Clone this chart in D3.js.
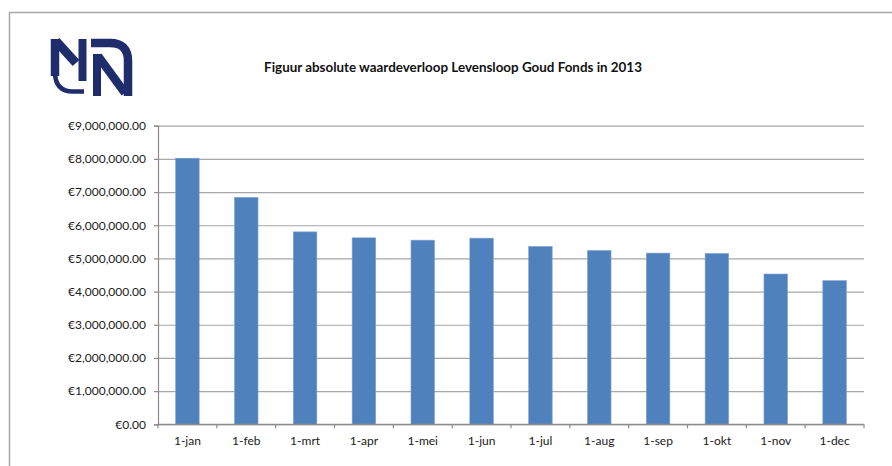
<!DOCTYPE html>
<html>
<head>
<meta charset="utf-8">
<script src="https://cdn.jsdelivr.net/npm/d3@7"></script>
<style>
  body { margin: 0; background: #fff; }
  svg { display: block; font-family: Lato, "Open Sans", sans-serif; }
  .tick text { fill: #1a1a1a; }
</style>
</head>
<body>
<svg width="892" height="466"></svg>
<script>
const months = ['1-jan', '1-feb', '1-mrt', '1-apr', '1-mei', '1-jun', '1-jul', '1-aug', '1-sep', '1-okt', '1-nov', '1-dec'];
const values = [8020000, 6840000, 5800000, 5620000, 5550000, 5610000, 5360000, 5240000, 5160000, 5150000, 4530000, 4330000];
const yTicks = [0, 1000000, 2000000, 3000000, 4000000, 5000000, 6000000, 7000000, 8000000, 9000000];

const svg = d3.select('svg');

// page frame (left and top edge)
svg.append('path')
  .attr('d', 'M9.5,466 L9.5,12.5 L892,12.5')
  .attr('fill', 'none')
  .attr('stroke', '#a8a8a8')
  .attr('stroke-width', 1.5);

// logo
const logo = svg.append('g')
  .attr('fill', 'none')
  .attr('stroke', '#202d6c');
logo.append('path').attr('d', 'M55,39 L55,76').attr('stroke-width', 8.5);
logo.append('path').attr('d', 'M55,72 Q55,91.5 73,91.5 L84,91.5').attr('stroke-width', 4.5);
logo.append('path').attr('d', 'M56,41 L76,63').attr('stroke-width', 9);
logo.append('path').attr('d', 'M82.5,39 L82.5,81').attr('stroke-width', 8);
logo.append('path').attr('d', 'M97,54 L97,96').attr('stroke-width', 8);
logo.append('path').attr('d', 'M91,43 L110,43 Q128,43 128,61 L128,96').attr('stroke-width', 8.5);
logo.append('path').attr('d', 'M98,56 L125,93').attr('stroke-width', 8.5);

svg.append('text')
  .attr('x', 453)
  .attr('y', 72)
  .attr('text-anchor', 'middle')
  .attr('font-weight', 'bold')
  .attr('font-size', 13.4)
  .attr('fill', '#111')
  .text('Figuur absolute waardeverloop Levensloop Goud Fonds in 2013');

const plotLeft = 158, plotRight = 864, plotTop = 125.7, plotBottom = 424.3;

const x = d3.scaleBand()
  .domain(months)
  .range([plotLeft, plotRight])
  .paddingInner(0.6)
  .paddingOuter(0.3);

const y = d3.scaleLinear()
  .domain([0, 9000000])
  .range([plotBottom, plotTop]);

const fmt = v => '€' + d3.format(',.2f')(v);

// gridlines
svg.append('g')
  .attr('transform', `translate(${plotLeft},0)`)
  .call(d3.axisLeft(y).tickValues(yTicks).tickSize(-(plotRight - plotLeft)).tickFormat(''))
  .call(g => g.select('.domain').remove())
  .call(g => g.selectAll('line').attr('stroke', '#a6a6a6').attr('stroke-width', 1.2));

// bars
svg.append('g')
  .selectAll('rect')
  .data(values)
  .enter()
  .append('rect')
  .attr('x', (d, i) => x(months[i]))
  .attr('y', d => y(d))
  .attr('width', x.bandwidth())
  .attr('height', d => plotBottom - y(d))
  .attr('fill', '#4f81bd')
  .attr('stroke', '#7fa3d3')
  .attr('stroke-width', 0.6);

// y axis
svg.append('g')
  .attr('transform', `translate(${plotLeft},0)`)
  .call(d3.axisLeft(y).tickValues(yTicks).tickSize(4).tickPadding(8).tickFormat(fmt))
  .call(g => g.selectAll('line, .domain').attr('stroke', '#8c8c8c').attr('stroke-width', 1.2))
  .call(g => g.selectAll('text').attr('font-size', 12).attr('font-family', 'Lato, sans-serif'));

// x axis with ticks at band boundaries
const xAxis = svg.append('g')
  .attr('transform', `translate(0,${plotBottom})`);
xAxis.append('line')
  .attr('x1', plotLeft).attr('x2', plotRight)
  .attr('stroke', '#8c8c8c').attr('stroke-width', 1.2);
const step = x.step();
xAxis.selectAll('.bt')
  .data(d3.range(months.length + 1))
  .enter()
  .append('line')
  .attr('x1', i => plotLeft + i * step)
  .attr('x2', i => plotLeft + i * step)
  .attr('y1', 0).attr('y2', 4)
  .attr('stroke', '#8c8c8c').attr('stroke-width', 1.2);
xAxis.selectAll('.lbl')
  .data(months)
  .enter()
  .append('text')
  .attr('x', d => x(d) + x.bandwidth() / 2)
  .attr('y', 21)
  .attr('text-anchor', 'middle')
  .attr('font-size', 12)
  .attr('fill', '#1a1a1a')
  .text(d => d);
</script>
</body>
</html>
